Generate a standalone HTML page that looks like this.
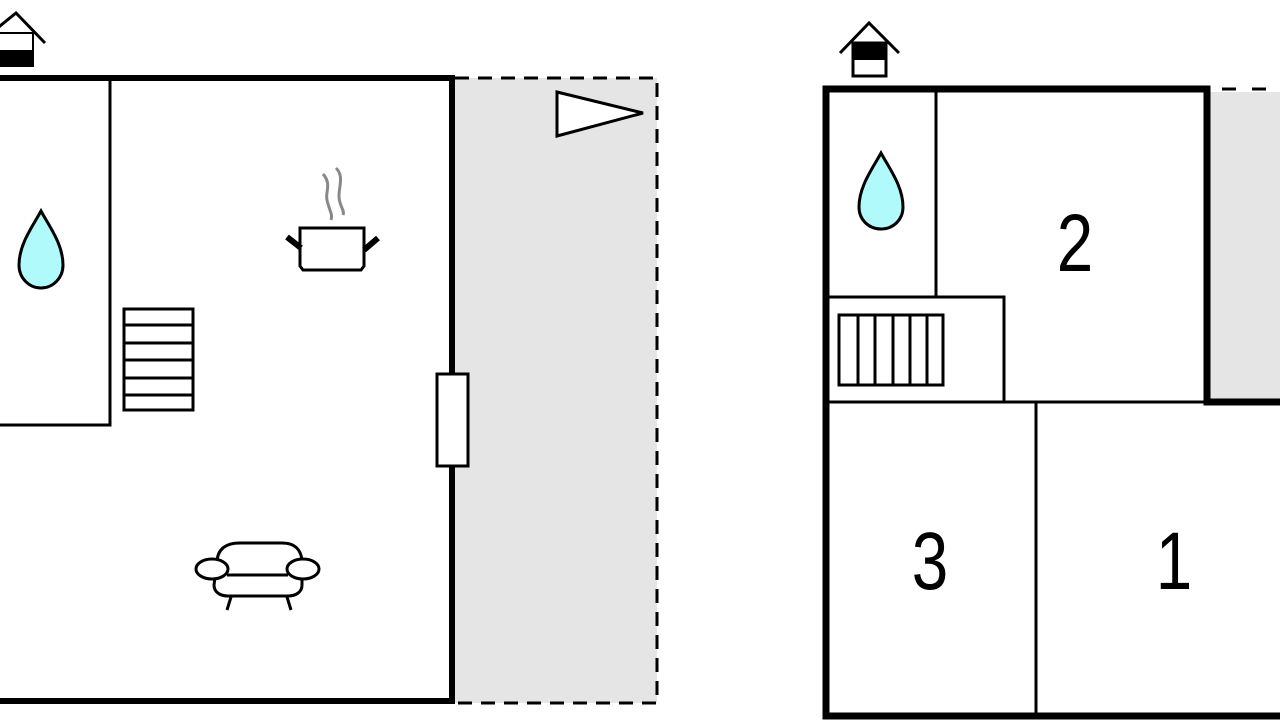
<!DOCTYPE html>
<html><head><meta charset="utf-8"><style>
html,body{margin:0;padding:0;background:#fff;width:1280px;height:720px;overflow:hidden}
svg{display:block}
text{font-family:"Liberation Sans",sans-serif}
</style></head><body>
<svg width="1280" height="720" viewBox="0 0 1280 720" xmlns="http://www.w3.org/2000/svg">
<!-- LEFT PLAN -->
<rect x="455" y="78" width="202" height="625" fill="#e5e5e5"/>
<path d="M455 78 H657 V703 H455" fill="none" stroke="#000" stroke-width="3" stroke-dasharray="14 9"/>
<polygon points="557,92 643,113 557,136" fill="#fff" stroke="#000" stroke-width="3"/>
<path d="M0 78 H452 V701 H0" fill="none" stroke="#000" stroke-width="6"/>
<path d="M110 79 V425 H0" fill="none" stroke="#000" stroke-width="3"/>
<rect x="437" y="374" width="31" height="92" fill="#fff" stroke="#000" stroke-width="3"/>
<!-- stairs -->
<rect x="124" y="309" width="69" height="101" fill="#fff" stroke="#000" stroke-width="3"/>
<path d="M124 325H193M124 343H193M124 360H193M124 378H193M124 395H193" stroke="#000" stroke-width="3"/>
<!-- drop left -->
<path d="M41 211 C33 226 19 244 19 265 C19 278 29 288 41 288 C53 288 63 278 63 265 C63 244 49 226 41 211Z" fill="#b0fafc" stroke="#000" stroke-width="3"/>
<!-- pot -->
<path d="M300 228 H364 V266 L361 270 H303 L300 266 Z" fill="#fff" stroke="#000" stroke-width="3"/>
<path d="M287 237 L301 248 M378 238 L364 250" stroke="#000" stroke-width="6"/>
<path d="M323 174 C332 184 325 192 327 200 C329 210 333 214 331 220" fill="none" stroke="#888" stroke-width="3"/>
<path d="M336 168 C344 176 339 186 339 196 C339 206 345 210 343 215" fill="none" stroke="#888" stroke-width="3"/>
<!-- sofa -->
<g fill="#fff" stroke="#000" stroke-width="3">
<path d="M217 563 C217 548 227 543 240 543 H282 C295 543 302 550 302 563 V585 C302 592 296 596 288 596 H228 C220 596 214 592 214 585 Z"/>
<ellipse cx="212" cy="569" rx="16" ry="10"/>
<ellipse cx="303" cy="569" rx="16" ry="10"/>
<path d="M227 575 H288" fill="none"/>
<path d="M231 597 L227 610 M287 597 L291 610" fill="none"/>
</g>
<!-- house left -->
<path d="M-10 34 L16 13 L45 43" fill="none" stroke="#000" stroke-width="3"/>
<rect x="-1" y="33" width="34" height="33" fill="#fff" stroke="#000" stroke-width="2"/>
<rect x="-1" y="50" width="34" height="16" fill="#000"/>

<!-- RIGHT PLAN -->
<rect x="1210" y="92" width="70" height="309" fill="#e5e5e5"/>
<path d="M1222 89 H1280" stroke="#000" stroke-width="3" stroke-dasharray="14 16"/>
<path d="M1280 402 H1207 V89 H826 V716 H1280" fill="none" stroke="#000" stroke-width="7"/>
<path d="M936 90 V297 M827 297 H1004 V402 M827 402 H1207 M1036 402 V716" fill="none" stroke="#000" stroke-width="3"/>
<rect x="839" y="315" width="104" height="70" fill="#fff" stroke="#000" stroke-width="3"/>
<path d="M858 315V385M875 315V385M893 315V385M910 315V385M927 315V385" stroke="#000" stroke-width="3"/>
<path d="M881 153 C873 168 859 186 859 207 C859 220 869 229 881 229 C893 229 903 220 903 207 C903 186 889 168 881 153Z" fill="#b0fafc" stroke="#000" stroke-width="3"/>
<path d="M840 53 L869 23 L899 53" fill="none" stroke="#000" stroke-width="3"/>
<rect x="853" y="43" width="33" height="33" fill="#fff" stroke="#000" stroke-width="3"/>
<rect x="853" y="43" width="33" height="17" fill="#000"/>
<g transform="translate(1075 271) scale(0.8 1)"><text x="0" y="0" font-size="82" text-anchor="middle">2</text></g>
<g transform="translate(930 589) scale(0.8 1)"><text x="0" y="0" font-size="82" text-anchor="middle">3</text></g>
<g transform="translate(1174 589) scale(0.8 1)"><text x="0" y="0" font-size="82" text-anchor="middle">1</text></g>
</svg>
</body></html>
